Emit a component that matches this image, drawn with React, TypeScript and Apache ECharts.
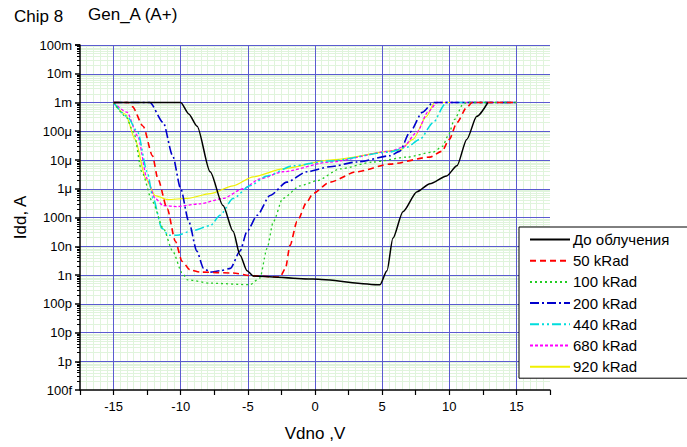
import React, { useEffect, useRef } from "react";
import * as echarts from "echarts";

const seriesNames = ["До облучения", "50 kRad", "100 kRad", "200 kRad", "440 kRad", "680 kRad", "920 kRad"];

const pre: [number, number][] = [
  [-15, 1e-3], [-10, 1e-3], [-9.4, 4e-4], [-8.78, 1.5e-4], [-7.81, 3.9e-6], [-6.85, 2.6e-7],
  [-6.1, 3.3e-8], [-5.58, 4.9e-9], [-5.06, 1.4e-9], [-4.61, 9.3e-10], [-0.15, 7.2e-10],
  [4.84, 4.6e-10], [5.36, 1.4e-9], [5.8, 1.9e-8], [6.55, 1.6e-7], [7.6, 7.9e-7], [8.56, 1.5e-6],
  [9.8, 2.8e-6], [10.57, 6.3e-6], [11.3, 5.2e-5], [12.05, 3.3e-4], [12.87, 1e-3],
];
const k50: [number, number][] = [
  [-15, 1e-3], [-13.9, 1e-3], [-13.6, 7.2e-4], [-12.8, 1.5e-4], [-12.1, 1.4e-5], [-11.7, 2.2e-6],
  [-11.0, 2.0e-7], [-10.4, 1.5e-8], [-9.9, 3.0e-9], [-9.3, 1.5e-9], [-8.56, 1.26e-9], [-6.1, 1.17e-9],
  [-4.6, 9.3e-10], [-2.6, 8.5e-10], [-2.2, 1.7e-9], [-1.86, 1.07e-8], [-1.34, 7.2e-8], [-0.6, 3.5e-7],
  [-0.15, 6.8e-7], [1.1, 1.7e-6], [3.1, 3.9e-6], [5.58, 7.2e-6], [8.56, 1.26e-5], [9.45, 2.0e-5],
  [10.0, 5.2e-5], [10.57, 2.0e-4], [11.3, 6.8e-4], [11.7, 1e-3], [15, 1e-3],
];
const k100: [number, number][] = [
  [-15, 1e-3], [-14.1, 3.3e-4], [-13.5, 9.3e-5], [-12.9, 3.9e-6], [-12.1, 3.5e-7], [-11.3, 4.2e-8],
  [-10.6, 6.8e-9], [-9.9, 1.2e-9], [-9.5, 6.8e-10], [-7.8, 5.2e-10], [-4.84, 4.6e-10], [-4.1, 7.9e-10],
  [-3.57, 8.5e-9], [-3.1, 7.2e-8], [-2.4, 4.6e-7], [-1.1, 1.26e-6], [0.15, 1.9e-6], [1.86, 4.9e-6],
  [4.3, 8.5e-6], [6.85, 1.26e-5], [8.8, 1.9e-5], [9.5, 3.0e-5], [9.9, 6.8e-5], [10.4, 2.6e-4],
  [11.0, 8.5e-4], [11.3, 1e-3], [15, 1e-3],
];
const k200: [number, number][] = [
  [-15, 1e-3], [-12.3, 1e-3], [-11.3, 2.0e-4], [-10.6, 1.4e-5], [-10.0, 1e-6], [-9.4, 7.2e-8],
  [-8.8, 6.8e-9], [-8.3, 1.7e-9], [-7.8, 1.26e-9], [-7.07, 1.4e-9], [-6.3, 1.7e-9], [-5.58, 6.8e-9],
  [-5.06, 3.3e-8], [-4.3, 1.2e-7], [-3.35, 5.8e-7], [-2.1, 1.7e-6], [-0.6, 3.9e-6], [1.1, 5.8e-6],
  [3.1, 8.5e-6], [5.58, 1.4e-5], [6.3, 2.0e-5], [7.07, 9.3e-5], [8.0, 4.6e-4], [8.8, 1e-3], [15, 1e-3],
];
const k440: [number, number][] = [
  [-15, 1e-3], [-14.0, 3.3e-4], [-13.2, 9.3e-5], [-12.5, 3.9e-6], [-12.05, 4.6e-7], [-11.4, 4.2e-8],
  [-10.9, 2.4e-8], [-10.3, 2.4e-8], [-9.1, 3.5e-8], [-7.8, 5.2e-8], [-7.07, 1.2e-7], [-6.1, 4.6e-7],
  [-4.84, 1.26e-6], [-3.57, 2.8e-6], [-1.64, 6.3e-6], [1.1, 9.3e-6], [5.58, 1.9e-5], [6.85, 2.8e-5],
  [7.8, 5.2e-5], [8.8, 2.0e-4], [9.67, 8.5e-4], [9.8, 1e-3], [15, 1e-3],
];
const k680: [number, number][] = [
  [-15, 1e-3], [-14.0, 4.6e-4], [-13.2, 6.8e-5], [-12.5, 2.2e-6], [-11.9, 4.6e-7], [-11.3, 2.6e-7],
  [-10.3, 2.4e-7], [-8.56, 3.0e-7], [-6.85, 4.6e-7], [-5.36, 1e-6], [-4.1, 2.2e-6], [-2.4, 3.9e-6],
  [1.1, 8.5e-6], [5.58, 2.0e-5], [6.55, 2.8e-5], [7.6, 9.3e-5], [8.4, 4.6e-4], [9.1, 1e-3], [15, 1e-3],
];
const k920: [number, number][] = [
  [-15, 1e-3], [-14.1, 3.9e-4], [-13.4, 5.2e-5], [-12.6, 2.2e-6], [-11.9, 5.8e-7], [-11.0, 4.2e-7],
  [-9.5, 4.6e-7], [-7.8, 6.8e-7], [-6.1, 1.26e-6], [-4.6, 2.6e-6], [-2.4, 4.9e-6], [1.1, 1e-5],
  [6.3, 2.2e-5], [7.3, 5.2e-5], [8.3, 3.3e-4], [8.9, 1e-3], [15, 1e-3],
];

const seriesData = [pre, k50, k100, k200, k440, k680, k920];
const majorX = [-15, -10, -5, 0, 5, 10, 15];
const yDecadeExps = [-13, -12, -11, -10, -9, -8, -7, -6, -5, -4, -3, -2];
const yTickLabels: Record<string, string> = {
  "-1": "100m", "-2": "10m", "-3": "1m", "-4": "100μ", "-5": "10μ", "-6": "1μ", "-7": "100n",
  "-8": "10n", "-9": "1n", "-10": "100p", "-11": "10p", "-12": "1p", "-13": "100f",
};

const colors = ["#000000", "#ff0000", "#22cc22", "#0000cc", "#00dddd", "#ff00ff", "#f0f000"];
const dashes: any[] = ["solid", [6, 4], [2, 3], [9, 3, 2, 3], [9, 3, 2, 3, 2, 3], [3, 2], "solid"];
const widths = [1.5, 1.6, 1.3, 1.6, 1.5, 1.3, 1.2];

const FONT = "Liberation Sans, Arial, sans-serif";
const MINOR = "#e0f4dc";
const MAJOR = "#5b5bd0";
const HIDDEN_LINE = { show: false, lineStyle: { color: "rgba(0,0,0,0)", width: 0 } };

export default function App() {
  const ref = useRef<HTMLDivElement>(null);
  useEffect(() => {
    if (!ref.current) return;
    const chart = echarts.init(ref.current, null, { renderer: "svg" });

    // decorative grid: minor x every 0.5 V, minor y at log10(2..9) within each decade
    const minorXLines: any[] = [];
    for (let i = -35; i <= 35; i++) {
      const v = i * 0.5;
      if (Math.abs(v) < 17.5 && !majorX.includes(v)) minorXLines.push({ xAxis: v });
    }
    const minorYLines: any[] = [];
    yDecadeExps.forEach((e) => {
      for (let k = 2; k <= 9; k++) minorYLines.push({ yAxis: e + Math.log10(k) });
    });
    const majorLines: any[] = [
      ...majorX.map((v) => ({ xAxis: v })),
      ...yDecadeExps.slice(1).map((e) => ({ yAxis: e })),
      { yAxis: -1 },
    ];

    const lineSeries: any[] = seriesData.map((d, i) => ({
      name: seriesNames[i],
      type: "line",
      data: d,
      symbol: "none",
      smooth: 0.25,
      smoothMonotone: "x",
      z: 10 - i,
      lineStyle: { color: colors[i], width: widths[i], type: dashes[i] },
      itemStyle: { color: colors[i] },
    }));
    lineSeries.push({
      type: "line",
      data: [],
      silent: true,
      yAxisIndex: 1,
      z: 0,
      markLine: {
        silent: true,
        z: 0,
        symbol: "none",
        label: { show: false },
        lineStyle: { color: MINOR, width: 1, type: "solid" },
        data: [...minorXLines, ...minorYLines],
      },
    });
    lineSeries.push({
      type: "line",
      data: [],
      silent: true,
      yAxisIndex: 1,
      z: 1,
      markLine: {
        silent: true,
        z: 1,
        symbol: "none",
        label: { show: false },
        lineStyle: { color: MAJOR, width: 1, type: "solid", opacity: 1 },
        data: majorLines,
      },
    });
    chart.setOption({
      animation: false,
      textStyle: { fontFamily: FONT },
      graphic: [
        { type: "text", left: 14, top: 8, style: { text: "Chip 8", font: `17px ${FONT}`, fill: "#000" } },
        { type: "text", left: 88, top: 6, style: { text: "Gen_A (A+)", font: `17px ${FONT}`, fill: "#000" } },
      ],
      grid: { left: 80, right: 137, top: 45, bottom: 54, containLabel: false },
      legend: {
        orient: "vertical",
        left: 519,
        top: 227,
        z: 20,
        backgroundColor: "#fff",
        borderColor: "#000",
        borderWidth: 1,
        padding: [5, 20, 4, 10],
        itemWidth: 40,
        itemHeight: 14,
        itemGap: 6.2,
        itemStyle: { color: "rgba(0,0,0,0)", borderWidth: 0, opacity: 0 },
        textStyle: { fontSize: 15, fontFamily: FONT, color: "#000", padding: [0, 0, 0, -2] },
        data: seriesNames,
      },
      xAxis: {
        type: "value",
        min: -17.5,
        max: 17.5,
        interval: 2.5,
        name: "Vdno ,V",
        nameLocation: "middle",
        nameGap: 35,
        nameTextStyle: { fontSize: 17, fontFamily: FONT, color: "#000" },
        axisLine: { show: true, onZero: false, lineStyle: { color: "#000", width: 1.5 } },
        axisTick: { show: true, length: 5, lineStyle: { color: "#000", width: 1.2 } },
        axisLabel: {
          fontSize: 13,
          color: "#000",
          margin: 10,
          fontFamily: FONT,
          formatter: (v: number) => (Math.abs(v % 5) < 1e-9 && Math.abs(v) < 17 ? String(v) : ""),
        },
        splitLine: HIDDEN_LINE,
        splitArea: { show: false },
        minorTick: { show: false },
        minorSplitLine: HIDDEN_LINE,
        z: 15,
      },
      yAxis: [
        {
          type: "log",
          logBase: 10,
          min: 1e-13,
          max: 1e-1,
          interval: 1,
          splitNumber: 12,
          name: "Idd, A",
          nameLocation: "middle",
          nameGap: 47,
          nameTextStyle: { fontSize: 17, fontFamily: FONT, color: "#000" },
          axisLine: { show: true, onZero: false, lineStyle: { color: "#000", width: 1.5 } },
          axisTick: { show: true, inside: false, length: 5, lineStyle: { color: "#000", width: 1.5 } },
          minorTick: { show: true, splitNumber: 9, length: 3, lineStyle: { color: "#000", width: 1 } },
          axisLabel: {
            fontSize: 13,
            color: "#000",
            margin: 8,
            fontFamily: FONT,
            formatter: (v: number) => yTickLabels[String(Math.round(Math.log10(v)))] ?? "",
          },
          splitLine: HIDDEN_LINE,
          splitArea: { show: false },
          minorSplitLine: HIDDEN_LINE,
          z: 15,
        },
        {
          type: "value",
          position: "left",
          min: -13,
          max: -1,
          interval: 1,
          axisLine: { show: false },
          axisTick: { show: false },
          axisLabel: { show: false },
          splitLine: HIDDEN_LINE,
          splitArea: { show: false },
          minorSplitLine: HIDDEN_LINE,
        },
      ],
      series: lineSeries,
    });
    return () => chart.dispose();
  }, []);
  return <div ref={ref} style={{ width: 687, height: 447, position: "absolute", left: 0, top: 0, background: "#fff" }} />;
}
